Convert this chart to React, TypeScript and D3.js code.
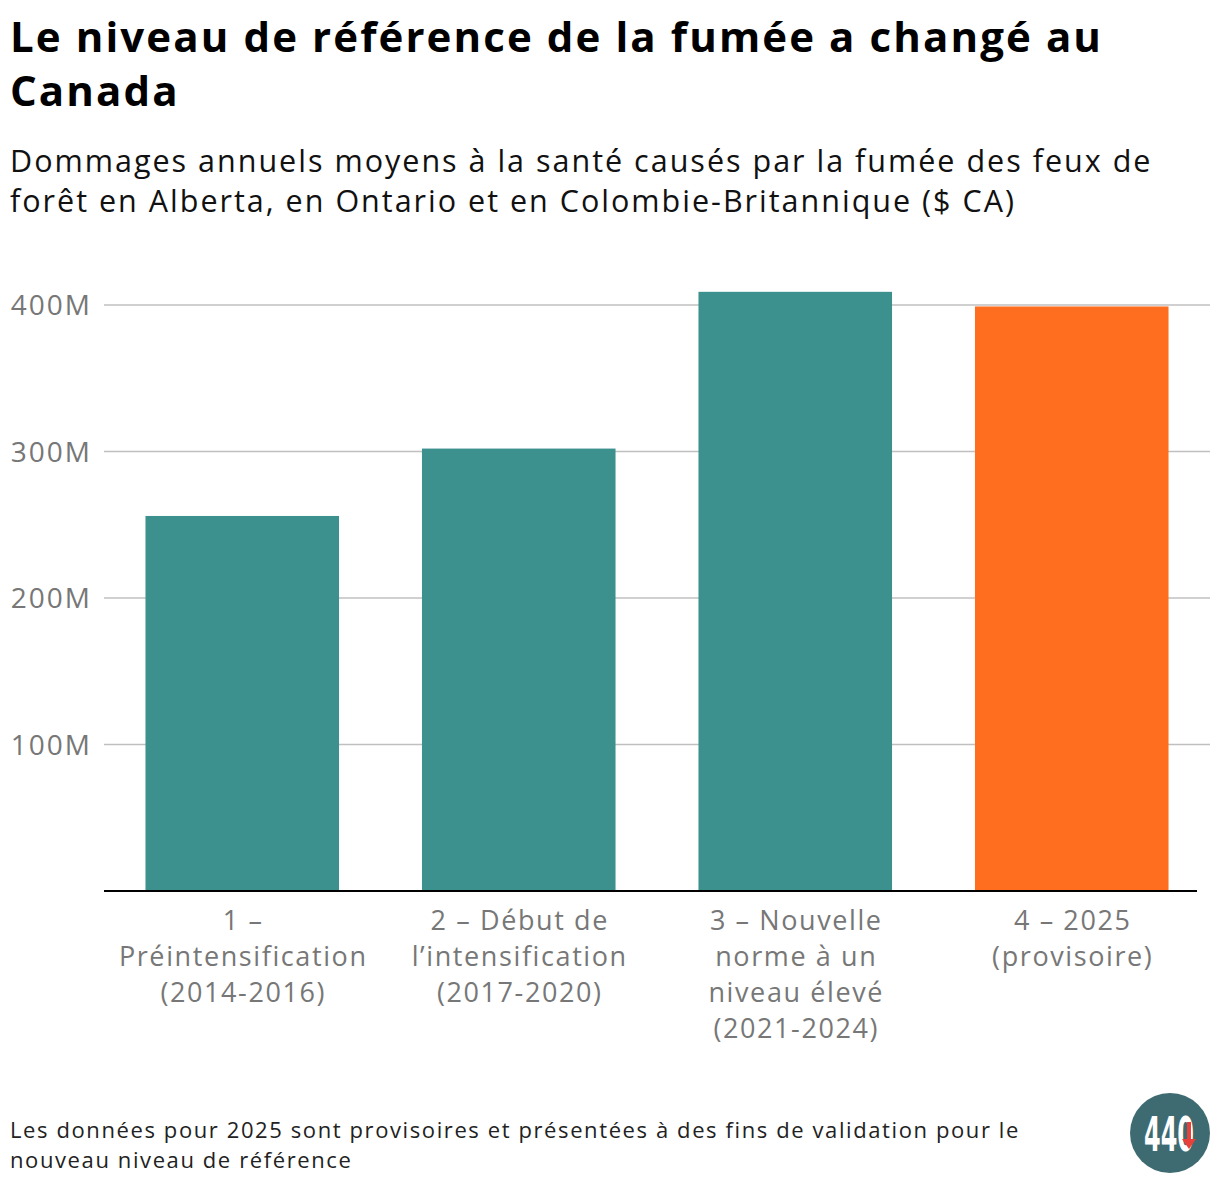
import React, { useEffect, useRef } from 'react';
import * as d3 from 'd3';

const categories = ['p1', 'p2', 'p3', 'p4'];
const labelLines = [
  ['1 –', 'Préintensification', '(2014-2016)'],
  ['2 – Début de', 'l’intensification', '(2017-2020)'],
  ['3 – Nouvelle', 'norme à un', 'niveau élevé', '(2021-2024)'],
  ['4 – 2025', '(provisoire)'],
];
const damages = [256, 302, 409, 399]; // millions $ CA
const provisional = [false, false, false, true];
const yTicks = [100, 200, 300, 400];

const titleLines = ['Le niveau de référence de la fumée a changé au', 'Canada'];
const subtitleLines = [
  'Dommages annuels moyens à la santé causés par la fumée des feux de',
  'forêt en Alberta, en Ontario et en Colombie-Britannique ($ CA)',
];
const noteLines = [
  'Les données pour 2025 sont provisoires et présentées à des fins de validation pour le',
  'nouveau niveau de référence',
];

const FONT = '"Open Sans", "DejaVu Sans", sans-serif';

const App: React.FC = () => {
  const ref = useRef<SVGSVGElement>(null);

  useEffect(() => {
    if (!ref.current) return;
    const width = 1220;
    const height = 1184;
    const left = 104;
    const right = 1210;
    const top = 305;
    const bottom = 891;

    const svg = d3.select(ref.current).attr('width', width).attr('height', height);
    svg.selectAll('*').remove();

    svg.append('rect').attr('width', width).attr('height', height).attr('fill', '#fff');

    const x = d3.scaleBand().domain(categories).range([left, right]).paddingInner(0.3).paddingOuter(0.15);
    const y = d3.scaleLinear().domain([0, 400]).range([bottom, top]);

    // titles
    svg.append('g')
      .selectAll('text')
      .data(titleLines)
      .join('text')
      .attr('x', 10)
      .attr('y', (_, i) => 52 + i * 54)
      .attr('font-family', FONT)
      .attr('font-weight', 700)
      .attr('font-size', 42)
      .attr('letter-spacing', 2.1)
      .attr('fill', '#000')
      .text(d => d);

    svg.append('g')
      .selectAll('text')
      .data(subtitleLines)
      .join('text')
      .attr('x', 10)
      .attr('y', (_, i) => 172 + i * 40)
      .attr('font-family', FONT)
      .attr('font-size', 30.5)
      .attr('letter-spacing', 2)
      .attr('fill', '#111')
      .text(d => d);

    // grid + y labels
    const grid = svg.append('g');
    grid.selectAll('line')
      .data(yTicks)
      .join('line')
      .attr('x1', left)
      .attr('x2', right)
      .attr('y1', d => y(d))
      .attr('y2', d => y(d))
      .attr('stroke', '#c0c0c0')
      .attr('stroke-width', 1.5);
    grid.selectAll('text')
      .data(yTicks)
      .join('text')
      .attr('x', 92)
      .attr('y', d => y(d) + 10)
      .attr('text-anchor', 'end')
      .attr('font-family', FONT)
      .attr('font-size', 28)
      .attr('letter-spacing', 2)
      .attr('fill', '#777')
      .text(d => `${d}M`);

    // bars
    svg.append('g')
      .selectAll('rect')
      .data(damages)
      .join('rect')
      .attr('x', (_, i) => x(categories[i])!)
      .attr('width', x.bandwidth())
      .attr('y', d => y(d))
      .attr('height', d => y(0) - y(d))
      .attr('fill', (_, i) => (provisional[i] ? '#ff6e1f' : '#3c918e'));

    // baseline
    svg.append('line')
      .attr('x1', left)
      .attr('x2', 1197)
      .attr('y1', bottom)
      .attr('y2', bottom)
      .attr('stroke', '#000')
      .attr('stroke-width', 2);

    // x labels
    const xl = svg.append('g');
    categories.forEach((c, i) => {
      const cx = x(c)! + x.bandwidth() / 2 + 1;
      xl.append('text')
        .attr('text-anchor', 'middle')
        .attr('font-family', FONT)
        .attr('font-size', 27)
        .attr('letter-spacing', 1.6)
        .attr('fill', '#777')
        .selectAll('tspan')
        .data(labelLines[i])
        .join('tspan')
        .attr('x', cx)
        .attr('y', (_, j) => 930 + j * 36)
        .text(d => d);
    });

    // note
    svg.append('g')
      .selectAll('text')
      .data(noteLines)
      .join('text')
      .attr('x', 10)
      .attr('y', (_, i) => 1138 + i * 30)
      .attr('font-family', FONT)
      .attr('font-size', 22)
      .attr('letter-spacing', 1.6)
      .attr('fill', '#222')
      .text(d => d);

    // logo
    const logo = svg.append('g').attr('transform', 'translate(1170,1133)');
    logo.append('circle').attr('r', 40).attr('fill', '#3e6b71');
    logo.append('text')
      .attr('x', -26)
      .attr('y', 18)
      .attr('font-family', '"DejaVu Sans Condensed", "Liberation Sans Narrow", sans-serif')
      .attr('font-weight', 700)
      .attr('font-size', 48)
      .attr('textLength', 50)
      .attr('lengthAdjust', 'spacingAndGlyphs')
      .attr('fill', '#fff')
      .text('440');
    logo.append('line')
      .attr('x1', 19).attr('x2', 19)
      .attr('y1', -11).attr('y2', 8)
      .attr('stroke', '#e8403a')
      .attr('stroke-width', 4);
    logo.append('path')
      .attr('d', 'M12,6 L26,6 L19,16 Z')
      .attr('fill', '#e8403a');
  }, []);

  return (
    <svg ref={ref} style={{ position: 'absolute', left: 0, top: 0, display: 'block' }}></svg>
  );
};

export default App;
